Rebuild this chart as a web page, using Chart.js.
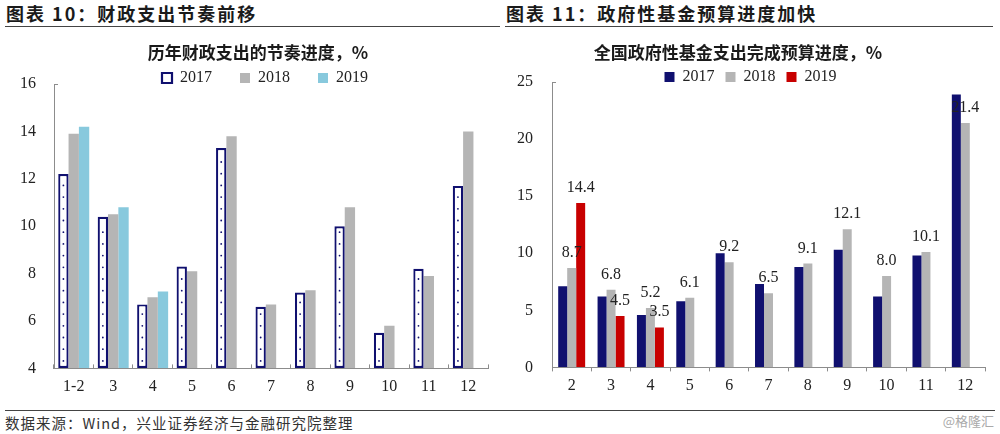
<!DOCTYPE html>
<html><head><meta charset="utf-8">
<script src="https://cdn.jsdelivr.net/npm/chart.js@4.4.0/dist/chart.umd.min.js"></script>
<style>
html,body{margin:0;padding:0;background:#fff;}
body{width:1000px;height:434px;position:relative;overflow:hidden;font-family:"Noto Sans CJK SC",sans-serif;}
.hdr{position:absolute;top:2px;font-size:18px;font-weight:700;color:#1a1a1a;letter-spacing:2px;line-height:22px;white-space:nowrap;}
.rule{position:absolute;height:0;border-top:1.5px solid #444;}
canvas{position:absolute;top:30px;}
#c1{left:0;}
#c2{left:480px;}
.foot{position:absolute;left:5px;top:414px;font-size:14.5px;color:#333;line-height:18px;letter-spacing:1px;white-space:nowrap;}
.wm{position:absolute;right:6px;top:413px;font-size:13px;color:#aaa;line-height:16px;}
</style></head>
<body>
<div class="hdr" style="left:6px;">图表 10：财政支出节奏前移</div>
<div class="hdr" style="left:506px;">图表 11：政府性基金预算进度加快</div>
<div class="rule" style="left:5px;top:26px;width:495px;"></div>
<div class="rule" style="left:505px;top:26px;width:488px;"></div>
<canvas id="c1" width="516" height="370"></canvas>
<canvas id="c2" width="520" height="370"></canvas>
<div class="rule" style="left:5px;top:410px;width:990px;"></div>
<div class="foot">数据来源：Wind，兴业证券经济与金融研究院整理</div>
<div class="wm">@格隆汇</div>
<script>
// ---- data ----
const seriesNames = ['2017', '2018', '2019'];
const fiscalCategories = ['1-2','3','4','5','6','7','8','9','10','11','12'];
const fiscal2017 = [12.2, 10.4, 6.7, 8.3, 13.3, 6.6, 7.2, 10.0, 5.5, 8.2, 11.7];
const fiscal2018 = [13.9, 10.5, 7.0, 8.1, 13.8, 6.7, 7.3, 10.8, 5.8, 7.9, 14.0];
const fiscal2019 = [14.2, 10.8, 7.25, null, null, null, null, null, null, null, null];
const fiscalYTicks = [4, 6, 8, 10, 12, 14, 16];
const fiscalTitle = '历年财政支出的节奏进度，%';

const fundCategories = ['2','3','4','5','6','7','8','9','10','11','12'];
const fund2017 = [7.1, 6.2, 4.6, 5.8, 10.0, 7.3, 8.8, 10.3, 6.2, 9.8, 23.9];
const fund2018 = [8.7, 6.8, 5.2, 6.1, 9.2, 6.5, 9.1, 12.1, 8.0, 10.1, 21.4];
const fund2019 = [14.4, 4.5, 3.5, null, null, null, null, null, null, null, null];
const fundYTicks = [0, 5, 10, 15, 20, 25];
const fundTitle = '全国政府性基金支出完成预算进度，%';

// ---- styles ----
const NAVY = '#10106f';
const GRAY = '#b5b5b5';
const LIGHTBLUE = '#88c9dd';
const RED = '#c80000';
const AXIS = '#8c8c8c';
const SERIF = '"Liberation Serif", "Times New Roman", serif';
const CJK = '"Noto Sans CJK SC", sans-serif';

Chart.defaults.devicePixelRatio = 1;

function padLabels(pads) {
  return function (chart) {
    const items = Chart.defaults.plugins.legend.labels.generateLabels(chart);
    items.forEach((it, i) => { it.text = it.text + ' '.repeat(pads[i] || 0); });
    return items;
  };
}

const dotsPlugin = {
  id: 'dots',
  afterDatasetsDraw(chart) {
    const meta = chart.getDatasetMeta(0);
    const ctx = chart.ctx;
    const bottom = chart.chartArea.bottom;
    ctx.save();
    ctx.fillStyle = NAVY;
    meta.data.forEach(el => {
      const p = el.getProps(['x', 'y', 'base'], true);
      const b = Math.min(p.base, bottom);
      for (let yy = b - 7; yy > p.y + 5; yy -= 11.7) {
        ctx.beginPath();
        ctx.arc(p.x, yy, 0.9, 0, Math.PI * 2);
        ctx.fill();
      }
    });
    ctx.restore();
  }
};

const valueLabels = {
  id: 'valueLabels',
  afterDatasetsDraw(chart) {
    const ctx = chart.ctx;
    ctx.save();
    ctx.font = '16px ' + SERIF;
    ctx.fillStyle = '#222';
    ctx.textAlign = 'center';
    ctx.textBaseline = 'alphabetic';
    [1, 2].forEach(di => {
      const meta = chart.getDatasetMeta(di);
      const data = chart.data.datasets[di].data;
      meta.data.forEach((el, i) => {
        const v = data[i];
        if (v == null) return;
        ctx.fillText(v.toFixed(1), el.x, el.y - 11);
      });
    });
    ctx.restore();
  }
};

function makeOptions(o) {
  const yt = o.yTicks;
  const scales = {
    x: {
      grid: { display: true, drawOnChartArea: false, drawTicks: true, tickLength: o.xTick, color: AXIS, offset: true },
      border: { display: true, color: AXIS, width: 1 },
      ticks: { color: '#222', font: { family: SERIF, size: 16 }, padding: o.xPad, maxRotation: 0, autoSkip: false },
      afterFit(s) { s.height = o.xHeight; }
    },
    y: {
      min: yt[0], max: yt[yt.length - 1],
      afterBuildTicks(s) { s.ticks = yt.map(v => ({ value: v })); },
      grid: {
        display: true, drawOnChartArea: false, drawTicks: true, tickLength: -4,
        color: c => (c.index === yt.length - 1 ? AXIS : 'rgba(0,0,0,0)')
      },
      border: { display: true, color: AXIS, width: 1 },
      ticks: { color: '#222', font: { family: SERIF, size: 16 }, padding: o.yPad },
      afterFit(s) { s.width = o.yWidth; }
    }
  };
  if (o.rightGap) {
    scales.yGap = {
      type: 'linear', position: 'right', display: true,
      grid: { display: false }, border: { display: false }, ticks: { display: false },
      afterFit(s) { s.width = o.rightGap; }
    };
  }
  return {
    responsive: false,
    animation: false,
    layout: { padding: { left: o.padLeft, right: o.padRight, top: 0, bottom: 0 } },
    datasets: { bar: { categoryPercentage: o.cp, barPercentage: 1.0 } },
    plugins: {
      tooltip: { enabled: false },
      title: {
        display: true, text: o.title, color: '#1a1a1a',
        font: { family: CJK, size: 17, weight: 'bold', lineHeight: 18 / 17 },
        padding: { top: 14, bottom: 0 }
      },
      legend: {
        display: true, position: 'top', fullSize: false, maxHeight: o.legendMaxH,
        labels: {
          boxWidth: 10, boxHeight: 10, padding: o.legendPad, color: '#222',
          font: { family: SERIF, size: 16 },
          generateLabels: padLabels(o.pads)
        }
      }
    },
    scales
  };
}

new Chart(document.getElementById('c1'), {
  type: 'bar',
  data: {
    labels: fiscalCategories,
    datasets: [
      { label: seriesNames[0], data: fiscal2017, base: fiscalYTicks[0], backgroundColor: '#ffffff', borderColor: NAVY, borderWidth: 2.2, borderSkipped: false },
      { label: seriesNames[1], data: fiscal2018, base: fiscalYTicks[0], backgroundColor: GRAY, borderWidth: 0 },
      { label: seriesNames[2], data: fiscal2019, base: fiscalYTicks[0], backgroundColor: LIGHTBLUE, borderWidth: 0 }
    ]
  },
  options: makeOptions({
    title: fiscalTitle, yTicks: fiscalYTicks, padLeft: 0, padRight: 0, rightGap: 28, cp: 0.786,
    legendMaxH: 22, legendPad: 8, pads: [5, 5, 3],
    xTick: -4, xPad: 13, xHeight: 31, yPad: 22, yWidth: 54
  }),
  plugins: [dotsPlugin]
});

new Chart(document.getElementById('c2'), {
  type: 'bar',
  data: {
    labels: fundCategories,
    datasets: [
      { label: seriesNames[0], data: fund2017, backgroundColor: NAVY, borderWidth: 0 },
      { label: seriesNames[1], data: fund2018, backgroundColor: GRAY, borderWidth: 0 },
      { label: seriesNames[2], data: fund2019, backgroundColor: RED, borderWidth: 0 }
    ]
  },
  options: makeOptions({
    title: fundTitle, yTicks: fundYTicks, padLeft: 11, padRight: 15, rightGap: 0, cp: 0.685,
    legendMaxH: 20, legendPad: 7, pads: [1, 1, 9],
    xTick: 4, xPad: 5, xHeight: 32.6, yPad: 23, yWidth: 61
  }),
  plugins: [valueLabels]
});
</script>
</body></html>
